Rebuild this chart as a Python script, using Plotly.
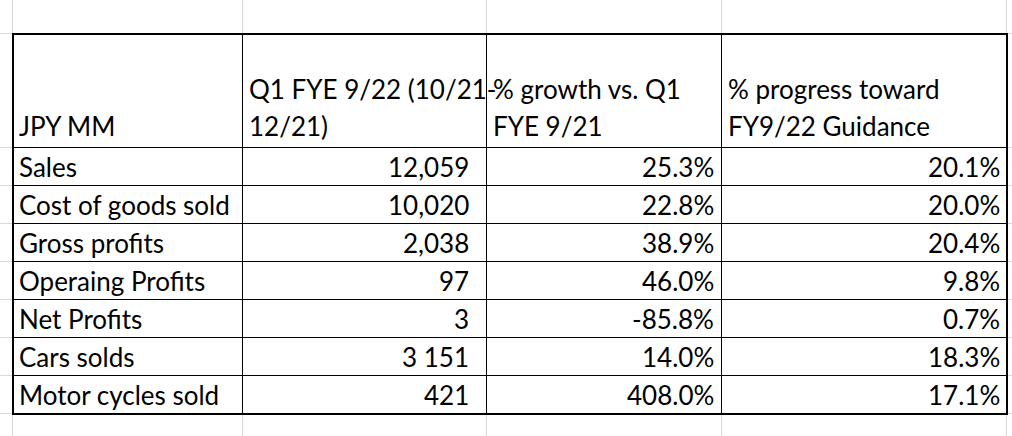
import plotly.graph_objects as go

# ---- data ----
header_col1 = ["JPY MM"]
header_col2 = ["Q1 FYE 9/22 (10/21-", "12/21)"]
header_col3 = ["% growth vs. Q1", "FYE 9/21"]
header_col4 = ["% progress toward", "FY9/22 Guidance"]
metrics = ["Sales", "Cost of goods sold", "Gross profits", "Operaing Profits",
           "Net Profits", "Cars solds", "Motor cycles sold"]
q1_values = ["12,059", "10,020", "2,038", "97", "3", "3 151", "421"]
growth_pct = [25.3, 22.8, 38.9, 46.0, -85.8, 14.0, 408.0]
progress_pct = [20.1, 20.0, 20.4, 9.8, 0.7, 18.3, 17.1]

# ---- layout geometry (pixels) ----
W, H = 1012, 436
col_x = [12, 242, 486, 721, 1006]
top_y = 33
header_bottom = 147
row_h = 38
n_rows = len(metrics)
row_y = [header_bottom + i * row_h for i in range(n_rows + 1)]
grid_color = "#d9d9d9"
FONT = "Lato"
FS = 26

fig = go.Figure()
shapes = []

def hline(y, x0, x1, color, w):
    shapes.append(dict(type="line", xref="x", yref="y", x0=x0, x1=x1, y0=y, y1=y,
                       line=dict(color=color, width=w), layer="above"))

def vline(x, y0, y1, color, w):
    shapes.append(dict(type="line", xref="x", yref="y", x0=x, x1=x, y0=y0, y1=y1,
                       line=dict(color=color, width=w), layer="above"))

# Excel gridlines
for x in col_x:
    vline(x + 0.5, 0, H, grid_color, 1)
for y in [top_y] + row_y:
    hline(y + 0.5, 0, W, grid_color, 1)

# white cover inside table
shapes.append(dict(type="rect", xref="x", yref="y", x0=col_x[0], x1=col_x[-1],
                   y0=top_y, y1=row_y[-1], fillcolor="white", line=dict(width=0),
                   layer="above"))

# inner borders
for x in col_x[1:-1]:
    vline(x + 0.5, top_y, row_y[-1], "black", 1)
for y in row_y[:-1]:
    hline(y + 0.5, col_x[0], col_x[-1], "black", 1)
# outer border (thick)
vline(col_x[0] + 1, top_y, row_y[-1] + 2, "black", 2)
vline(col_x[-1] + 1, top_y, row_y[-1] + 2, "black", 2)
hline(top_y + 1, col_x[0], col_x[-1] + 2, "black", 2)
hline(row_y[-1] + 1, col_x[0], col_x[-1] + 2, "black", 2)

annotations = []

def txt(s, x, y, anchor):
    annotations.append(dict(text=s, x=x, y=y, xref="x", yref="y", showarrow=False,
                            xanchor=anchor, yanchor="middle",
                            font=dict(family=FONT, size=FS, color="black")))

# header
line_y = [89, 126]
txt(header_col1[0], 17, line_y[1], "left")
for i, s in enumerate(header_col2):
    txt(s, 247, line_y[i], "left")
for i, s in enumerate(header_col3):
    txt(s, 491, line_y[i], "left")
for i, s in enumerate(header_col4):
    txt(s, 726, line_y[i], "left")

# body
for i, m in enumerate(metrics):
    yc = row_y[i] + row_h / 2 + 0.5
    txt(m, 17, yc, "left")
    txt(q1_values[i], 471, yc, "right")
    txt(f"{growth_pct[i]:.1f}%", 716, yc, "right")
    txt(f"{progress_pct[i]:.1f}%", 1002, yc, "right")

fig.update_layout(
    width=W, height=H, margin=dict(l=0, r=0, t=0, b=0),
    paper_bgcolor="white", plot_bgcolor="white",
    xaxis=dict(range=[0, W], visible=False, fixedrange=True),
    yaxis=dict(range=[H, 0], visible=False, fixedrange=True),
    shapes=shapes, annotations=annotations, showlegend=False,
)
fig.write_html(
    "out.html",
    config={"displayModeBar": False},
    post_script="document.body.style.margin='0';document.body.style.overflow='hidden';",
)
